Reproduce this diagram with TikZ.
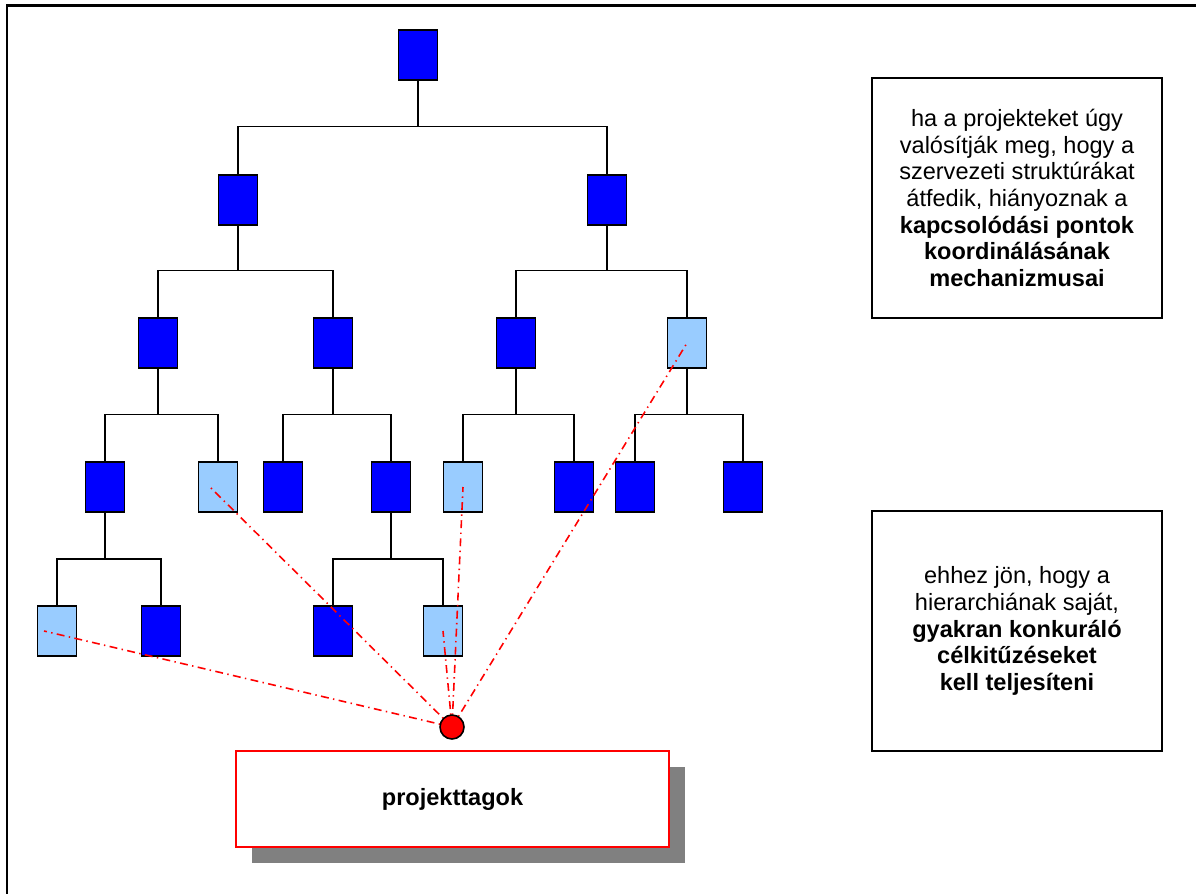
\documentclass[tikz,border=0pt]{standalone}
\usepackage{fontspec}
\setmainfont{Liberation Sans}
\usepackage{xcolor}
\usetikzlibrary{shadows}
\definecolor{orgblue}{RGB}{0,0,255}
\definecolor{orglight}{RGB}{153,204,255}

\begin{document}
\begin{tikzpicture}[x=0.02cm,y=-0.02cm,
    unit/.style={rectangle,draw,line width=0.9pt,fill=orgblue,minimum width=0.78cm,minimum height=1cm,inner sep=0pt},
    unitl/.style={unit,fill=orglight},
    tree/.style={line width=0.8pt},
    link/.style={red,line width=0.9pt,dash pattern=on 4.5pt off 2.5pt on 0.8pt off 2.5pt},
    note/.style={rectangle,draw,line width=0.8pt,minimum width=5.8cm,minimum height=4.8cm,align=center,font=\fontsize{13.4}{15.2}\selectfont}]
      \useasboundingbox (0,0) rectangle (1196,893);
      \draw[line width=1.2pt] (1200,5.5) -- (7,5.5) -- (7,900);

      % hierarchy
      \node[unit] (r) at (418,55) {};
      \node[unit] (a1) at (238,200) {};
      \node[unit] (a2) at (607,200) {};
      \node[unit] (b1) at (158,343) {};
      \node[unit] (b2) at (333,343) {};
      \node[unit] (b3) at (516,343) {};
      \node[unitl] (b4) at (687,343) {};
      \node[unit] (c1) at (105,487) {};
      \node[unitl] (c2) at (218,487) {};
      \node[unit] (c3) at (283,487) {};
      \node[unit] (c4) at (391,487) {};
      \node[unitl] (c5) at (463,487) {};
      \node[unit] (c6) at (574,487) {};
      \node[unit] (c7) at (635,487) {};
      \node[unit] (c8) at (743,487) {};
      \node[unitl] (d1) at (57,631) {};
      \node[unit] (d2) at (161,631) {};
      \node[unit] (d3) at (333,631) {};
      \node[unitl] (d4) at (443,631) {};

      \draw[tree] (r.south) -- ++(0,46) -| (a1.north);
      \draw[tree] (r.south) -- ++(0,46) -| (a2.north);
      \draw[tree] (a1.south) -- ++(0,45) -| (b1.north);
      \draw[tree] (a1.south) -- ++(0,45) -| (b2.north);
      \draw[tree] (a2.south) -- ++(0,45) -| (b3.north);
      \draw[tree] (a2.south) -- ++(0,45) -| (b4.north);
      \draw[tree] (b1.south) -- ++(0,46) -| (c1.north);
      \draw[tree] (b1.south) -- ++(0,46) -| (c2.north);
      \draw[tree] (b2.south) -- ++(0,46) -| (c3.north);
      \draw[tree] (b2.south) -- ++(0,46) -| (c4.north);
      \draw[tree] (b3.south) -- ++(0,46) -| (c5.north);
      \draw[tree] (b3.south) -- ++(0,46) -| (c6.north);
      \draw[tree] (b4.south) -- ++(0,46) -| (c7.north);
      \draw[tree] (b4.south) -- ++(0,46) -| (c8.north);
      \draw[tree] (c1.south) -- ++(0,46) -| (d1.north);
      \draw[tree] (c1.south) -- ++(0,46) -| (d2.north);
      \draw[tree] (c4.south) -- ++(0,46) -| (d3.north);
      \draw[tree] (c4.south) -- ++(0,46) -| (d4.north);

      % project members
      \node[rectangle,draw=red,line width=0.9pt,fill=white,minimum width=8.66cm,minimum height=1.92cm,
        drop shadow={shadow xshift=0.32cm,shadow yshift=-0.32cm,fill=black!50,opacity=1},
        font=\fontsize{13.4}{15.2}\selectfont\bfseries] (tagok) at (452.5,799) {projekttagok};
      \coordinate (m) at (452,727);
      \draw[link] (m) -- ([xshift=-0.26cm]d1.center);
      \draw[link] (m) -- ([xshift=-0.16cm]c2.center);
      \draw[link] (m) -- (c5.center);
      \draw[link] (m) -- (d4.center);
      \draw[link] (m) -- (b4.center);
      \node[circle,draw,line width=0.9pt,fill=red,minimum size=0.48cm,inner sep=0pt] (pm) at (m) {};

      % notes
      \node[note] (n1) at (1017,198) {ha a projekteket úgy\\valósítják meg, hogy a\\szervezeti struktúrákat\\átfedik, hiányoznak a\\\textbf{kapcsolódási pontok}\\\textbf{koordinálásának}\\\textbf{mechanizmusai}};
      \node[note] (n2) at (1017,631) {ehhez jön, hogy a\\hierarchiának saját,\\\textbf{gyakran konkuráló}\\\textbf{célkitűzéseket}\\\textbf{kell teljesíteni}};
    \end{tikzpicture}
\end{document}
